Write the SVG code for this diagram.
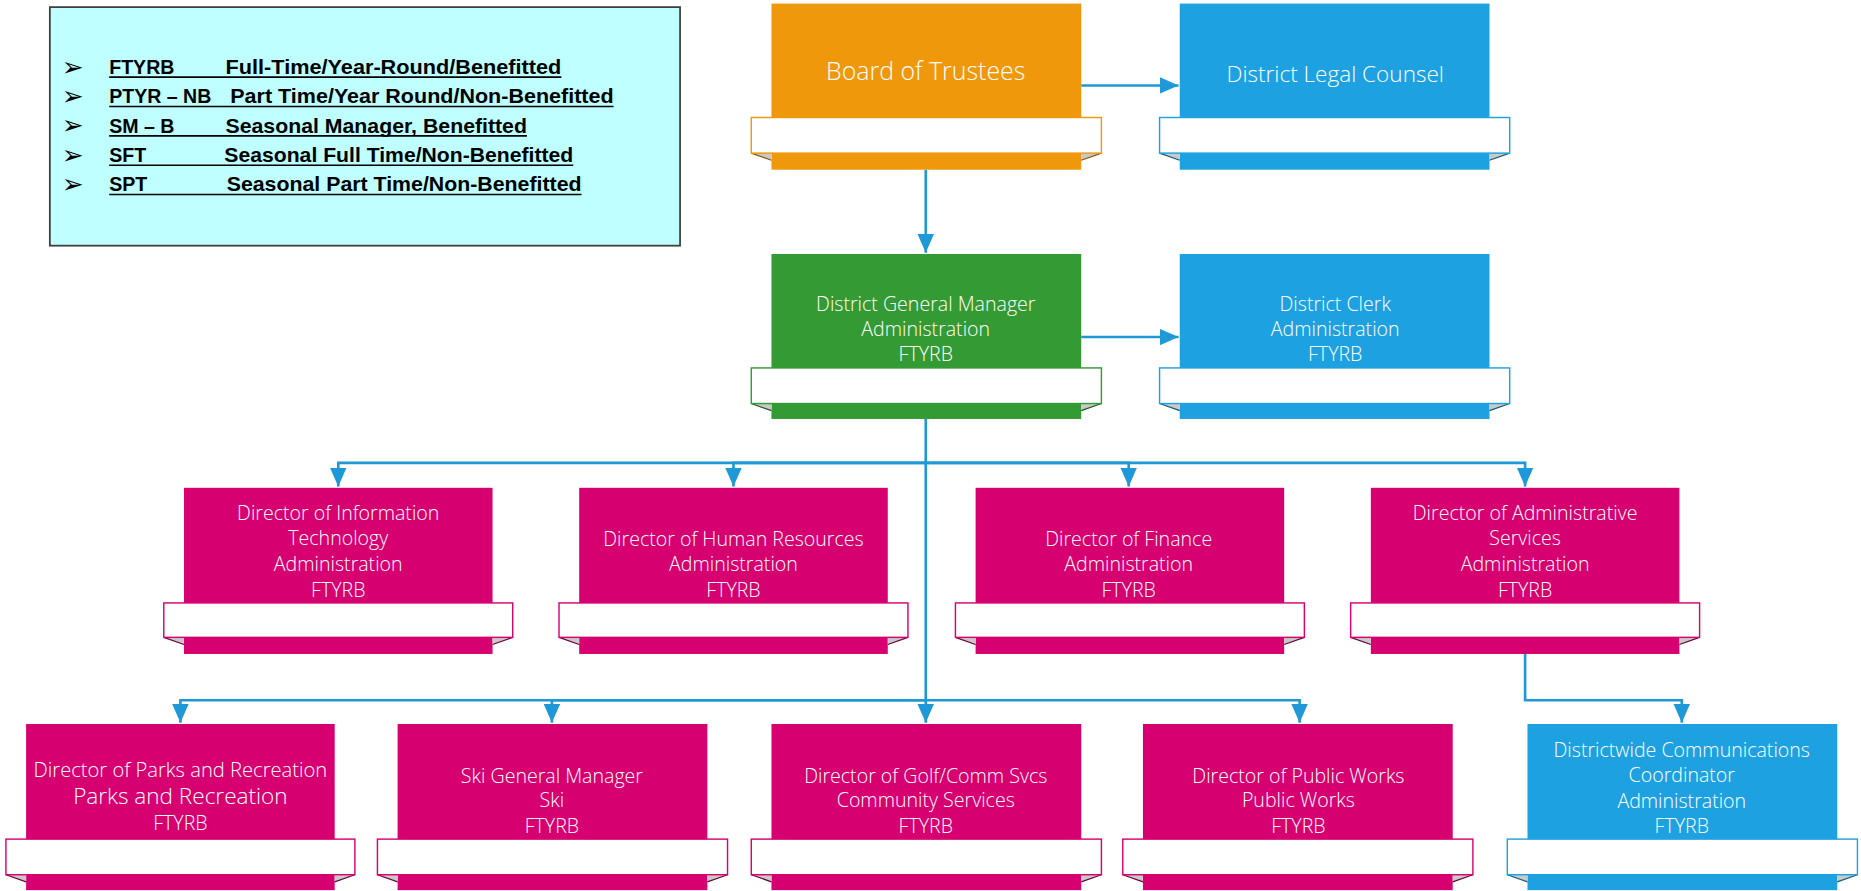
<svg xmlns="http://www.w3.org/2000/svg" width="1861" height="891" viewBox="0 0 1861 891">
<style>
.box{stroke:none}
.orange{fill:#F0980C}
.blue{fill:#1EA1E0}
.green{fill:#349A33}
.pink{fill:#D70070}
.band{fill:#FFFFFF;stroke-width:1.2}
.fold{fill:#C9C9C9}
.lbl{font-family:"Open Sans","Noto Sans","DejaVu Sans",sans-serif;font-weight:300;fill:#FFFFFF;text-anchor:middle;font-size:16.5px}
.big{font-size:21px}
.conn{fill:none;stroke:#1E98D6;stroke-width:2.2}
.leg{font-family:"Liberation Sans",Arial,sans-serif;font-weight:bold;font-size:16.5px;fill:#000}
.bul{font-family:"DejaVu Sans",sans-serif;font-size:22px;fill:#000}
.ul{stroke:#000;stroke-width:1.3}
</style>
<defs>
<marker id="arr" viewBox="0 0 16 14" refX="16" refY="7" markerWidth="16" markerHeight="14" markerUnits="userSpaceOnUse" orient="auto">
<path d="M0,0 L16,7 L0,14 z" fill="#1E98D6"/>
</marker>
</defs>
<rect width="1861" height="891" fill="#FFFFFF"/>
<g transform="scale(1.18686)">
<g id="legend">
<rect x="42" y="6" width="531" height="201" fill="#BFFFFF" stroke="#3F3F3F" stroke-width="1.5"/>
<text class="bul" x="52" y="64">➢</text>
<text class="bul" x="52" y="88.5">➢</text>
<text class="bul" x="52" y="113">➢</text>
<text class="bul" x="52" y="138">➢</text>
<text class="bul" x="52" y="162.5">➢</text>
<text class="leg" x="92" y="62.3">FTYRB</text>
<text class="leg" x="190" y="62.3" textLength="283" lengthAdjust="spacingAndGlyphs">Full-Time/Year-Round/Benefitted</text>
<line class="ul" x1="92" y1="65" x2="473" y2="65"/>
<text class="leg" x="92" y="87" textLength="86" lengthAdjust="spacingAndGlyphs">PTYR – NB</text>
<text class="leg" x="194" y="87" textLength="323" lengthAdjust="spacingAndGlyphs">Part Time/Year Round/Non-Benefitted</text>
<line class="ul" x1="92" y1="89.7" x2="517" y2="89.7"/>
<text class="leg" x="92" y="111.8">SM – B</text>
<text class="leg" x="190" y="111.8" textLength="254" lengthAdjust="spacingAndGlyphs">Seasonal Manager, Benefitted</text>
<line class="ul" x1="92" y1="114.5" x2="444" y2="114.5"/>
<text class="leg" x="92" y="136.5">SFT</text>
<text class="leg" x="189" y="136.5" textLength="294" lengthAdjust="spacingAndGlyphs">Seasonal Full Time/Non-Benefitted</text>
<line class="ul" x1="92" y1="139.2" x2="483" y2="139.2"/>
<text class="leg" x="92" y="161.2">SPT</text>
<text class="leg" x="191" y="161.2" textLength="299" lengthAdjust="spacingAndGlyphs">Seasonal Part Time/Non-Benefitted</text>
<line class="ul" x1="92" y1="163.9" x2="490" y2="163.9"/>
</g>

<g id="connectors">
<path class="conn" d="M911,72 H993" marker-end="url(#arr)"/>
<path class="conn" d="M780,143 V213" marker-end="url(#arr)"/>
<path class="conn" d="M911,284 H993" marker-end="url(#arr)"/>
<path class="conn" d="M780,353 V609" marker-end="url(#arr)"/>
<path class="conn" d="M780,390 H285 V410" marker-end="url(#arr)"/>
<path class="conn" d="M780,390 H618 V410" marker-end="url(#arr)"/>
<path class="conn" d="M780,390 H951 V410" marker-end="url(#arr)"/>
<path class="conn" d="M780,390 H1285 V410" marker-end="url(#arr)"/>
<path class="conn" d="M780,590 H152 V609" marker-end="url(#arr)"/>
<path class="conn" d="M780,590 H465 V609" marker-end="url(#arr)"/>
<path class="conn" d="M780,590 H1095 V609" marker-end="url(#arr)"/>
<path class="conn" d="M1285,551 V590 H1417 V609" marker-end="url(#arr)"/>
</g>

<g id="board">
<rect class="box orange" x="650" y="3" width="261" height="140"/>
<polygon class="fold" points="633,129 650,129 650,135"/><line x1="633" y1="129" x2="650" y2="135" stroke="#8A5600"/>
<polygon class="fold" points="928,129 911,129 911,135"/><line x1="928" y1="129" x2="911" y2="135" stroke="#8A5600"/>
<rect class="band" x="633" y="99" width="295" height="30" stroke="#F0980C"/>
<text class="lbl big" x="780" y="67">Board of Trustees</text>
</g>

<g id="legal">
<rect class="box blue" x="994" y="3" width="261" height="140"/>
<polygon class="fold" points="977,129 994,129 994,135"/><line x1="977" y1="129" x2="994" y2="135" stroke="#105A80"/>
<polygon class="fold" points="1272,129 1255,129 1255,135"/><line x1="1272" y1="129" x2="1255" y2="135" stroke="#105A80"/>
<rect class="band" x="977" y="99" width="295" height="30" stroke="#1EA1E0"/>
<text class="lbl" x="1125" y="69" style="font-size:19px">District Legal Counsel</text>
</g>

<g id="gm">
<rect class="box green" x="650" y="214" width="261" height="139"/>
<polygon class="fold" points="633,340 650,340 650,346"/><line x1="633" y1="340" x2="650" y2="346" stroke="#1C5A1C"/>
<polygon class="fold" points="928,340 911,340 911,346"/><line x1="928" y1="340" x2="911" y2="346" stroke="#1C5A1C"/>
<rect class="band" x="633" y="310" width="295" height="30" stroke="#349A33"/>
<text class="lbl" x="780" y="262">District General Manager</text>
<text class="lbl" x="780" y="283">Administration</text>
<text class="lbl" x="780" y="304">FTYRB</text>
</g>

<g id="clerk">
<rect class="box blue" x="994" y="214" width="261" height="139"/>
<polygon class="fold" points="977,340 994,340 994,346"/><line x1="977" y1="340" x2="994" y2="346" stroke="#105A80"/>
<polygon class="fold" points="1272,340 1255,340 1255,346"/><line x1="1272" y1="340" x2="1255" y2="346" stroke="#105A80"/>
<rect class="band" x="977" y="310" width="295" height="30" stroke="#1EA1E0"/>
<text class="lbl" x="1125" y="262">District Clerk</text>
<text class="lbl" x="1125" y="283">Administration</text>
<text class="lbl" x="1125" y="304">FTYRB</text>
</g>

<g id="dir-it">
<rect class="box pink" x="155" y="411" width="260" height="140"/>
<polygon class="fold" points="138,537 155,537 155,543"/><line x1="138" y1="537" x2="155" y2="543" stroke="#6E0039"/>
<polygon class="fold" points="432,537 415,537 415,543"/><line x1="432" y1="537" x2="415" y2="543" stroke="#6E0039"/>
<rect class="band" x="138" y="508" width="294" height="29" stroke="#D70070"/>
<text class="lbl" x="285" y="438">Director of Information</text>
<text class="lbl" x="285" y="459">Technology</text>
<text class="lbl" x="285" y="481">Administration</text>
<text class="lbl" x="285" y="503">FTYRB</text>
</g>

<g id="dir-hr">
<rect class="box pink" x="488" y="411" width="260" height="140"/>
<polygon class="fold" points="471,537 488,537 488,543"/><line x1="471" y1="537" x2="488" y2="543" stroke="#6E0039"/>
<polygon class="fold" points="765,537 748,537 748,543"/><line x1="765" y1="537" x2="748" y2="543" stroke="#6E0039"/>
<rect class="band" x="471" y="508" width="294" height="29" stroke="#D70070"/>
<text class="lbl" x="618" y="460">Director of Human Resources</text>
<text class="lbl" x="618" y="481">Administration</text>
<text class="lbl" x="618" y="503">FTYRB</text>
</g>

<g id="dir-finance">
<rect class="box pink" x="822" y="411" width="260" height="140"/>
<polygon class="fold" points="805,537 822,537 822,543"/><line x1="805" y1="537" x2="822" y2="543" stroke="#6E0039"/>
<polygon class="fold" points="1099,537 1082,537 1082,543"/><line x1="1099" y1="537" x2="1082" y2="543" stroke="#6E0039"/>
<rect class="band" x="805" y="508" width="294" height="29" stroke="#D70070"/>
<text class="lbl" x="951" y="460">Director of Finance</text>
<text class="lbl" x="951" y="481">Administration</text>
<text class="lbl" x="951" y="503">FTYRB</text>
</g>

<g id="dir-admin">
<rect class="box pink" x="1155" y="411" width="260" height="140"/>
<polygon class="fold" points="1138,537 1155,537 1155,543"/><line x1="1138" y1="537" x2="1155" y2="543" stroke="#6E0039"/>
<polygon class="fold" points="1432,537 1415,537 1415,543"/><line x1="1432" y1="537" x2="1415" y2="543" stroke="#6E0039"/>
<rect class="band" x="1138" y="508" width="294" height="29" stroke="#D70070"/>
<text class="lbl" x="1285" y="438">Director of Administrative</text>
<text class="lbl" x="1285" y="459">Services</text>
<text class="lbl" x="1285" y="481">Administration</text>
<text class="lbl" x="1285" y="503">FTYRB</text>
</g>

<g id="dir-parks">
<rect class="box pink" x="22" y="610" width="260" height="140"/>
<polygon class="fold" points="5,737 22,737 22,743"/><line x1="5" y1="737" x2="22" y2="743" stroke="#6E0039"/>
<polygon class="fold" points="299,737 282,737 282,743"/><line x1="299" y1="737" x2="282" y2="743" stroke="#6E0039"/>
<rect class="band" x="5" y="707" width="294" height="30" stroke="#D70070"/>
<text class="lbl" x="152" y="655" style="font-size:17px">Director of Parks and Recreation</text>
<text class="lbl" x="152" y="677.5" style="font-size:19px">Parks and Recreation</text>
<text class="lbl" x="152" y="699">FTYRB</text>
</g>

<g id="ski">
<rect class="box pink" x="335" y="610" width="261" height="140"/>
<polygon class="fold" points="318,737 335,737 335,743"/><line x1="318" y1="737" x2="335" y2="743" stroke="#6E0039"/>
<polygon class="fold" points="613,737 596,737 596,743"/><line x1="613" y1="737" x2="596" y2="743" stroke="#6E0039"/>
<rect class="band" x="318" y="707" width="295" height="30" stroke="#D70070"/>
<text class="lbl" x="465" y="660">Ski General Manager</text>
<text class="lbl" x="465" y="680">Ski</text>
<text class="lbl" x="465" y="702">FTYRB</text>
</g>

<g id="dir-golf">
<rect class="box pink" x="650" y="610" width="261" height="140"/>
<polygon class="fold" points="633,737 650,737 650,743"/><line x1="633" y1="737" x2="650" y2="743" stroke="#6E0039"/>
<polygon class="fold" points="928,737 911,737 911,743"/><line x1="928" y1="737" x2="911" y2="743" stroke="#6E0039"/>
<rect class="band" x="633" y="707" width="295" height="30" stroke="#D70070"/>
<text class="lbl" x="780" y="660">Director of Golf/Comm Svcs</text>
<text class="lbl" x="780" y="680">Community Services</text>
<text class="lbl" x="780" y="702">FTYRB</text>
</g>

<g id="dir-pw">
<rect class="box pink" x="963" y="610" width="261" height="140"/>
<polygon class="fold" points="946,737 963,737 963,743"/><line x1="946" y1="737" x2="963" y2="743" stroke="#6E0039"/>
<polygon class="fold" points="1241,737 1224,737 1224,743"/><line x1="1241" y1="737" x2="1224" y2="743" stroke="#6E0039"/>
<rect class="band" x="946" y="707" width="295" height="30" stroke="#D70070"/>
<text class="lbl" x="1094" y="660">Director of Public Works</text>
<text class="lbl" x="1094" y="680">Public Works</text>
<text class="lbl" x="1094" y="702">FTYRB</text>
</g>

<g id="comm">
<rect class="box blue" x="1287" y="610" width="261" height="140"/>
<polygon class="fold" points="1270,737 1287,737 1287,743"/><line x1="1270" y1="737" x2="1287" y2="743" stroke="#105A80"/>
<polygon class="fold" points="1565,737 1548,737 1548,743"/><line x1="1565" y1="737" x2="1548" y2="743" stroke="#105A80"/>
<rect class="band" x="1270" y="707" width="295" height="30" stroke="#1EA1E0"/>
<text class="lbl" x="1417" y="638">Districtwide Communications</text>
<text class="lbl" x="1417" y="659">Coordinator</text>
<text class="lbl" x="1417" y="681">Administration</text>
<text class="lbl" x="1417" y="702">FTYRB</text>
</g>
</g>
</svg>
